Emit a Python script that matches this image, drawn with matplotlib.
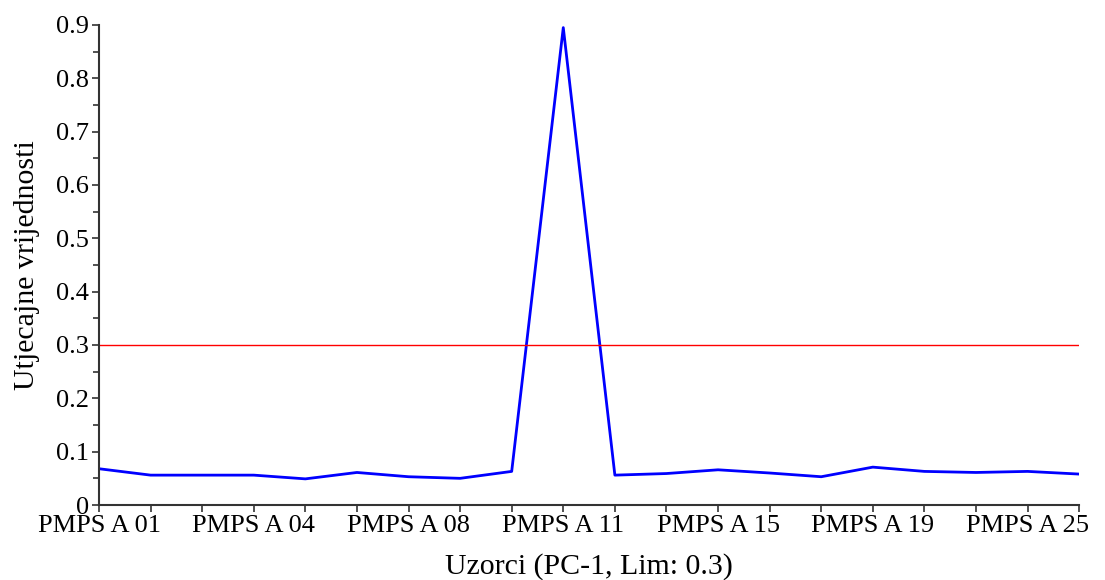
import matplotlib
matplotlib.use("Agg")
import matplotlib.pyplot as plt
import matplotlib.ticker as mtick

samples = ["PMPS A 01", "PMPS A 02", "PMPS A 03", "PMPS A 04", "PMPS A 06",
           "PMPS A 07", "PMPS A 08", "PMPS A 09", "PMPS A 10", "PMPS A 11",
           "PMPS A 13", "PMPS A 14", "PMPS A 15", "PMPS A 17", "PMPS A 18",
           "PMPS A 19", "PMPS A 21", "PMPS A 23", "PMPS A 25", "PMPS A 26"]
values = [0.068, 0.056, 0.056, 0.056, 0.049, 0.061, 0.053, 0.050, 0.063, 0.895,
          0.056, 0.059, 0.066, 0.060, 0.053, 0.071, 0.063, 0.061, 0.063, 0.058]
limit = 0.3
label_every = 3

plt.rcParams['font.family'] = ['Liberation Serif', 'DejaVu Serif']

fig = plt.figure(figsize=(11.05, 5.8), dpi=100)
ax = fig.add_axes([0.0896, 0.1293, 0.887, 0.8277])

x = list(range(len(samples)))
ax.plot(x, values, color='#0000ff', linewidth=2)
ax.axhline(limit, color='#ff0000', linewidth=1)

ax.set_xlim(0, len(samples) - 1)
ax.set_ylim(0, 0.9)
ax.set_xticks(x)
ax.set_xticklabels([s if i % label_every == 0 else "" for i, s in enumerate(samples)])
ax.yaxis.set_major_locator(mtick.MultipleLocator(0.1))
ax.yaxis.set_minor_locator(mtick.MultipleLocator(0.05))
ax.yaxis.set_major_formatter(mtick.FuncFormatter(lambda v, p: "0" if abs(v) < 1e-9 else f"{v:.1f}"))

for side in ['top', 'right']:
    ax.spines[side].set_visible(False)
for side in ['left', 'bottom']:
    ax.spines[side].set_color('#333333')
    ax.spines[side].set_linewidth(1.5)

ax.tick_params(axis='both', which='both', direction='out', color='#333333', width=1.2, labelsize=19, pad=2)
ax.tick_params(axis='both', which='major', length=5)
ax.tick_params(axis='y', which='minor', length=4)

ax.set_xlabel("Uzorci (PC-1, Lim: 0.3)", fontsize=21.5, labelpad=12)
ax.set_ylabel("Utjecajne vrijednosti", fontsize=21.5, labelpad=12)

plt.savefig("out.png", dpi=100)
